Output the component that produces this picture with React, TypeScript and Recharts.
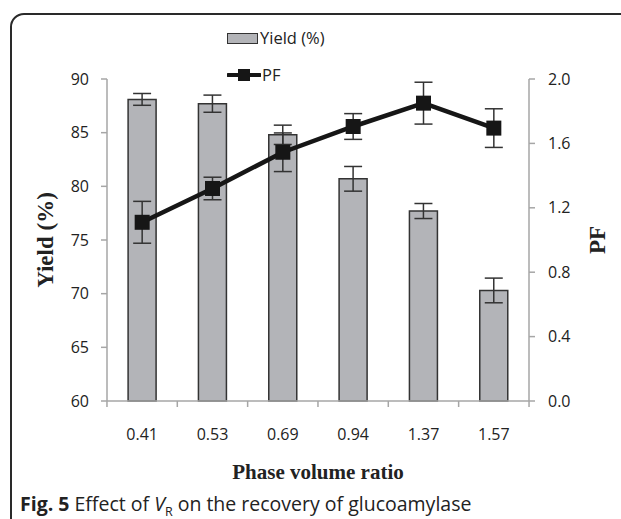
import { Bar, ComposedChart, ErrorBar, Line, XAxis, YAxis } from "recharts";

const ratios = ["0.41", "0.53", "0.69", "0.94", "1.37", "1.57"];
const yieldValues = [88.1, 87.7, 84.8, 80.7, 77.7, 70.3];
const yieldErrors = [0.55, 0.8, 0.9, 1.15, 0.7, 1.15];
const pfValues = [1.11, 1.32, 1.545, 1.705, 1.85, 1.695];
const pfErrors = [0.13, 0.07, 0.12, 0.08, 0.13, 0.12];

const yieldTicks = [60, 65, 70, 75, 80, 85, 90];
const pfTicks = [0, 0.4, 0.8, 1.2, 1.6, 2.0];

const data = ratios.map((r, i) => ({
  ratio: r,
  yield: yieldValues[i],
  yieldErr: yieldErrors[i],
  pf: pfValues[i],
  pfErr: pfErrors[i],
}));

const AXIS = "#a6a6a6";
const TEXT = "#222";
const SANS = "'Open Sans', sans-serif";
const SERIF = "'Liberation Serif', 'Times New Roman', serif";
const BAND = (529.2 - 106.8) / ratios.length;

function SquareDot(props: any) {
  const { cx, cy } = props;
  if (cx == null || cy == null) return null;
  return <rect x={cx - 7.5} y={cy - 7.5} width={15} height={15} fill="#161616" />;
}

function CategoryTick(props: any) {
  const { x, y, payload, index } = props;
  const top = y - 28;
  return (
    <g>
      <line x1={x - BAND / 2} y1={top} x2={x - BAND / 2} y2={top + 6} stroke={AXIS} strokeWidth={1.5} />
      {index === ratios.length - 1 && (
        <line x1={x + BAND / 2} y1={top} x2={x + BAND / 2} y2={top + 6} stroke={AXIS} strokeWidth={1.5} />
      )}
      <text x={x} y={y} dy="0.71em" textAnchor="middle" fill={TEXT} fontSize={16} fontFamily={SANS}>
        {payload.value}
      </text>
    </g>
  );
}

function LegendBox() {
  return (
    <div
      style={{
        position: "absolute",
        left: 227,
        top: 28,
        fontFamily: SANS,
        fontSize: 16.5,
        color: TEXT,
        lineHeight: "20px",
      }}
    >
      <div style={{ display: "flex", alignItems: "center" }}>
        <span
          style={{
            display: "inline-block",
            width: 31,
            height: 11,
            background: "#b3b4b8",
            border: "1px solid #333",
            marginRight: 2,
            boxSizing: "border-box",
          }}
        />
        Yield (%)
      </div>
      <div style={{ display: "flex", alignItems: "center", marginTop: 17 }}>
        <svg width={34} height={16} style={{ marginRight: 1 }}>
          <line x1={1} y1={8} x2={33} y2={8} stroke="#161616" strokeWidth={4} strokeLinecap="round" />
          <rect x={11} y={2} width={12} height={12} fill="#161616" />
        </svg>
        PF
      </div>
    </div>
  );
}

export default function App() {
  return (
    <div style={{ position: "absolute", left: 0, top: 0, width: 621, height: 519, background: "#fff", overflow: "hidden" }}>
      <div
        style={{
          position: "absolute",
          left: 10,
          top: 13,
          width: 640,
          height: 540,
          border: "2px solid #2a2a2a",
          borderRadius: 14,
          boxSizing: "border-box",
        }}
      />
      <ComposedChart
        width={621}
        height={519}
        data={data}
        margin={{ top: 79, right: 32, bottom: 88, left: 47 }}
        barCategoryGap="30%"
      >
        <XAxis
          dataKey="ratio"
          xAxisId="x"
          axisLine={{ stroke: AXIS, strokeWidth: 1.5 }}
          tickLine={false}
          tickSize={8}
          tickMargin={20}
          height={30}
          tick={<CategoryTick />}
          interval={0}
          label={{
            value: "Phase volume ratio",
            position: "insideBottom",
            offset: -48,
            style: { fontFamily: SERIF, fontWeight: 700, fontSize: 21, fill: TEXT },
          }}
        />
        <YAxis
          yAxisId="left"
          domain={[60, 90]}
          ticks={yieldTicks}
          width={60}
          axisLine={{ stroke: AXIS, strokeWidth: 1.5 }}
          tickLine={{ stroke: AXIS, strokeWidth: 1.5 }}
          tickSize={6}
          tickMargin={12}
          tick={{ fill: TEXT, fontSize: 16, fontFamily: SANS }}
          label={{
            value: "Yield (%)",
            angle: -90,
            position: "insideLeft",
            offset: -2,
            style: { textAnchor: "middle", fontFamily: SERIF, fontWeight: 700, fontSize: 23, fill: TEXT },
          }}
        />
        <YAxis
          yAxisId="right"
          orientation="right"
          domain={[0, 2]}
          ticks={pfTicks}
          width={60}
          axisLine={{ stroke: AXIS, strokeWidth: 1.5 }}
          tickLine={{ stroke: AXIS, strokeWidth: 1.5 }}
          tickSize={6}
          tickMargin={13}
          tickFormatter={(v: number) => v.toFixed(1)}
          tick={{ fill: TEXT, fontSize: 16, fontFamily: SANS }}
          label={{
            value: "PF",
            angle: -90,
            position: "insideRight",
            offset: -8,
            style: { textAnchor: "middle", fontFamily: SERIF, fontWeight: 700, fontSize: 23, fill: TEXT },
          }}
        />
        <Bar
          xAxisId="x"
          yAxisId="left"
          dataKey="yield"
          name="Yield (%)"
          fill="#b3b4b8"
          stroke="#333"
          strokeWidth={1.5}
          isAnimationActive={false}
        >
          <ErrorBar dataKey="yieldErr" width={9} stroke="#333" strokeWidth={1.5} />
        </Bar>
        <Line
          xAxisId="x"
          yAxisId="right"
          dataKey="pf"
          name="PF"
          stroke="#161616"
          strokeWidth={4.5}
          dot={<SquareDot />}
          activeDot={false}
          isAnimationActive={false}
        >
          <ErrorBar dataKey="pfErr" width={9} stroke="#333" strokeWidth={1.5} />
        </Line>
      </ComposedChart>
      <LegendBox />
      <div
        style={{
          position: "absolute",
          left: 20,
          top: 492,
          fontFamily: SANS,
          fontSize: 19.5,
          lineHeight: "24px",
          color: TEXT,
          whiteSpace: "nowrap",
        }}
      >
        <b>Fig. 5</b> Effect of <i>V</i>
        <sub style={{ fontSize: 12.5 }}>R</sub> on the recovery of glucoamylase
      </div>
    </div>
  );
}
